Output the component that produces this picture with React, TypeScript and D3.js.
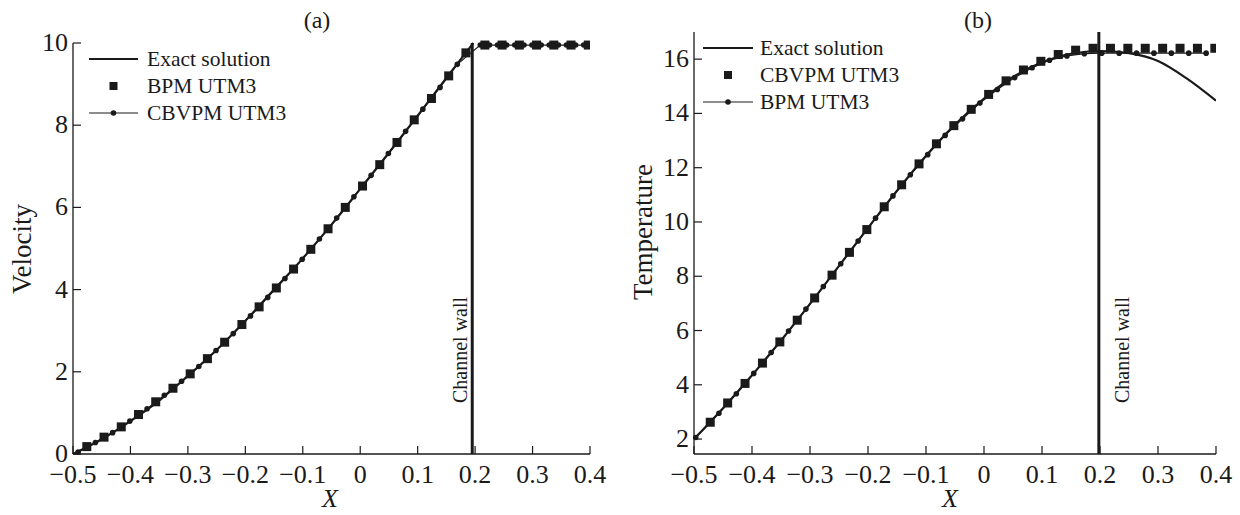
import React from "react";
import * as d3 from "d3";

// ---------- Panel (a): Velocity ----------
const velExactX = [-0.5, -0.45, -0.4, -0.35, -0.3, -0.25, -0.2, -0.15, -0.1, -0.05, 0, 0.05, 0.1, 0.15, 0.197];
const velExactY = [0, 0.36, 0.8, 1.3, 1.9, 2.53, 3.24, 4.0, 4.76, 5.58, 6.45, 7.33, 8.23, 9.15, 10];

const velBpmX = [-0.476, -0.446, -0.416, -0.386, -0.356, -0.326, -0.296, -0.266, -0.236, -0.206, -0.176, -0.146, -0.116, -0.086, -0.056, -0.026, 0.004, 0.034, 0.064, 0.094, 0.124, 0.154, 0.184,
  0.217, 0.247, 0.277, 0.307, 0.337, 0.367, 0.397];
const velBpmY = [0.18, 0.41, 0.66, 0.96, 1.27, 1.6, 1.95, 2.32, 2.72, 3.15, 3.58, 4.04, 4.5, 4.98, 5.48, 6.0, 6.52, 7.04, 7.58, 8.13, 8.65, 9.2, 9.76,
  9.95, 9.95, 9.95, 9.95, 9.95, 9.95, 9.95];

const velCbvX = [-0.491, -0.461, -0.431, -0.401, -0.371, -0.341, -0.311, -0.281, -0.251, -0.221, -0.191, -0.161, -0.131, -0.101, -0.071, -0.041, -0.011, 0.019, 0.049, 0.079, 0.109, 0.139, 0.169,
  0.209, 0.225, 0.239, 0.255, 0.269, 0.285, 0.299, 0.315, 0.329, 0.345, 0.359, 0.375, 0.389];
const velCbvY = [0.05, 0.28, 0.52, 0.8, 1.1, 1.43, 1.77, 2.13, 2.52, 2.93, 3.36, 3.81, 4.27, 4.74, 5.23, 5.74, 6.26, 6.78, 7.31, 7.85, 8.39, 8.92, 9.48,
  9.95, 9.95, 9.95, 9.95, 9.95, 9.95, 9.95, 9.95, 9.95, 9.95, 9.95, 9.95, 9.95];

// ---------- Panel (b): Temperature ----------
const tmpExactX = [-0.5, -0.45, -0.4, -0.35, -0.3, -0.25, -0.2, -0.15, -0.1, -0.05, 0, 0.05, 0.1, 0.15, 0.2, 0.25, 0.3, 0.35, 0.4];
const tmpExactY = [2.0, 3.14, 4.35, 5.63, 6.98, 8.38, 9.78, 11.15, 12.44, 13.59, 14.55, 15.34, 15.88, 16.2, 16.3, 16.22, 15.93, 15.28, 14.47];

const tmpCbvX = [-0.472, -0.442, -0.412, -0.382, -0.352, -0.322, -0.292, -0.262, -0.232, -0.202, -0.172, -0.142, -0.112, -0.082, -0.052, -0.022, 0.008, 0.038, 0.068, 0.098, 0.128, 0.158, 0.188,
  0.218, 0.248, 0.278, 0.308, 0.338, 0.368, 0.398];
const tmpCbvY = [2.62, 3.33, 4.05, 4.8, 5.58, 6.38, 7.2, 8.04, 8.88, 9.72, 10.56, 11.37, 12.14, 12.88, 13.55, 14.15, 14.7, 15.2, 15.6, 15.92, 16.17, 16.33, 16.4,
  16.4, 16.4, 16.4, 16.4, 16.4, 16.4, 16.4];

const tmpBpmX = [-0.497, -0.457, -0.427, -0.397, -0.367, -0.337, -0.307, -0.277, -0.247, -0.217, -0.187, -0.157, -0.127, -0.097, -0.067, -0.037, -0.007, 0.023, 0.053, 0.083, 0.113, 0.143, 0.173,
  0.203, 0.233, 0.263, 0.293, 0.323, 0.353, 0.383];
const tmpBpmY = [2.06, 2.95, 3.67, 4.42, 5.19, 5.98, 6.79, 7.62, 8.46, 9.3, 10.14, 10.96, 11.74, 12.48, 13.19, 13.8, 14.38, 14.88, 15.32, 15.68, 15.96, 16.12, 16.2,
  16.22, 16.22, 16.22, 16.22, 16.22, 16.22, 16.22];

const xTicks = [-0.5, -0.4, -0.3, -0.2, -0.1, 0, 0.1, 0.2, 0.3, 0.4];
const velTicks = [0, 2, 4, 6, 8, 10];
const tmpTicks = [2, 4, 6, 8, 10, 12, 14, 16];

const FONT = "'Liberation Serif', 'Times New Roman', Times, serif";
const INK = "#1a1a1a";

type Pt = [number, number];
const zip = (xs: number[], ys: number[]): Pt[] => xs.map((x, i) => [x, ys[i]]);

interface PanelProps {
  id: string;
  title: string;
  titleX: number;
  yLabel: string;
  yLabelX: number;
  yLabelY: number;
  xRange: [number, number];
  yDomain: [number, number];
  yRange: [number, number];
  yTicks: number[];
  yTop: number;
  wall: number;
  wallTop: number;
  wallLabelX: number;
  exact: Pt[];
  squares: Pt[];
  dots: Pt[];
  legend: { lineX0: number; lineX1: number; textX: number; rows: number[]; labels: string[] };
  xLabelX: number;
}

function Panel(p: PanelProps) {
  const x = d3.scaleLinear().domain([-0.5, 0.4]).range(p.xRange);
  const y = d3.scaleLinear().domain(p.yDomain).range(p.yRange);
  const exactLine = d3.line<Pt>().x(d => x(d[0])).y(d => y(d[1])).curve(d3.curveMonotoneX);
  const dotLine = d3.line<Pt>().x(d => x(d[0])).y(d => y(d[1]));
  const y0 = p.yRange[0];
  const fmt = (d: number) => (d === 0 ? "0" : d.toFixed(1).replace("-", "\u2212"));
  const sq = 9;
  const lg = p.legend;
  const sqX = (lg.lineX0 + lg.lineX1) / 2;
  return (
    <g>
      <defs>
        <clipPath id={p.id}>
          <rect x={p.xRange[0] - 10} y={0} width={p.xRange[1] - p.xRange[0] + 10} height={y0 + 5} />
        </clipPath>
      </defs>
      {/* axes */}
      <line x1={p.xRange[0]} x2={p.xRange[1]} y1={y0} y2={y0} stroke={INK} strokeWidth={1.3} />
      <line x1={p.xRange[0]} x2={p.xRange[0]} y1={y0} y2={y(p.yTop)} stroke={INK} strokeWidth={1.3} />
      {xTicks.map(t => (
        <g key={"x" + t}>
          <line x1={x(t)} x2={x(t)} y1={y0} y2={y0 - 8} stroke={INK} strokeWidth={1.2} />
          <text x={x(t)} y={483} fontSize={26} fontFamily={FONT} textAnchor="middle" fill={INK}>{fmt(t)}</text>
        </g>
      ))}
      {p.yTicks.map(t => (
        <g key={"y" + t}>
          <line x1={p.xRange[0]} x2={p.xRange[0] + 8} y1={y(t)} y2={y(t)} stroke={INK} strokeWidth={1.2} />
          <text x={p.xRange[0] - 5} y={y(t) + 8} fontSize={26} fontFamily={FONT} textAnchor="end" fill={INK}>{t}</text>
        </g>
      ))}
      <text x={p.titleX} y={28} fontSize={24} fontFamily={FONT} textAnchor="middle" fill={INK}>{p.title}</text>
      <text x={p.xLabelX} y={507} fontSize={26} fontFamily={FONT} fontStyle="italic" textAnchor="middle" fill={INK}>X</text>
      <text transform={`translate(${p.yLabelX},${p.yLabelY}) rotate(-90)`} fontSize={27} fontFamily={FONT} textAnchor="middle" dominantBaseline="central" fill={INK}>{p.yLabel}</text>
      {/* channel wall */}
      <line x1={x(p.wall)} x2={x(p.wall)} y1={y0} y2={y(p.wallTop)} stroke={INK} strokeWidth={3} />
      <text transform={`translate(${p.wallLabelX},403) rotate(-90)`} fontSize={20} fontFamily={FONT} textAnchor="start" dominantBaseline="central" fill={INK}>Channel wall</text>
      {/* data */}
      <g clipPath={`url(#${p.id})`}>
        <path d={dotLine(p.dots) || ""} fill="none" stroke={INK} strokeWidth={1.2} />
        {p.dots.map((d, i) => (
          <circle key={"d" + i} cx={x(d[0])} cy={y(d[1])} r={2.8} fill={INK} />
        ))}
        <path d={exactLine(p.exact) || ""} fill="none" stroke={INK} strokeWidth={2.2} />
        {p.squares.map((d, i) => (
          <rect key={"s" + i} x={x(d[0]) - sq / 2} y={y(d[1]) - sq / 2} width={sq} height={sq} fill={INK} />
        ))}
      </g>
      {/* legend */}
      <line x1={lg.lineX0} x2={lg.lineX1} y1={lg.rows[0]} y2={lg.rows[0]} stroke={INK} strokeWidth={2} />
      <rect x={sqX - 4} y={lg.rows[1] - 4} width={8} height={8} fill={INK} />
      <line x1={lg.lineX0} x2={lg.lineX1} y1={lg.rows[2]} y2={lg.rows[2]} stroke={INK} strokeWidth={1.2} />
      <circle cx={sqX} cy={lg.rows[2]} r={2.8} fill={INK} />
      {lg.labels.map((l, i) => (
        <text key={l} x={lg.textX} y={lg.rows[i] + 6.5} fontSize={21.5} fontFamily={FONT} fill={INK}>{l}</text>
      ))}
    </g>
  );
}

export default function App() {
  return (
    <svg width={1240} height={515} style={{ position: "absolute", left: 0, top: 0, background: "#fff" }}>
      <rect width={1240} height={515} fill="#fff" />
      <Panel
        id="clipA"
        title="(a)"
        titleX={317}
        yLabel="Velocity"
        yLabelX={22}
        yLabelY={249}
        xRange={[73, 590]}
        yDomain={[0, 10]}
        yRange={[454, 43]}
        yTicks={velTicks}
        yTop={10}
        wall={0.195}
        wallTop={10}
        wallLabelX={460}
        exact={zip(velExactX, velExactY)}
        squares={zip(velBpmX, velBpmY)}
        dots={zip(velCbvX, velCbvY)}
        legend={{ lineX0: 89, lineX1: 138, textX: 147, rows: [59, 86, 113], labels: ["Exact solution", "BPM UTM3", "CBVPM UTM3"] }}
        xLabelX={330}
      />
      <Panel
        id="clipB"
        title="(b)"
        titleX={978}
        yLabel="Temperature"
        yLabelX={643}
        yLabelY={232}
        xRange={[694, 1216]}
        yDomain={[1.45, 17]}
        yRange={[454, 32]}
        yTicks={tmpTicks}
        yTop={17}
        wall={0.198}
        wallTop={17}
        wallLabelX={1122}
        exact={zip(tmpExactX, tmpExactY)}
        squares={zip(tmpCbvX, tmpCbvY)}
        dots={zip(tmpBpmX, tmpBpmY)}
        legend={{ lineX0: 703, lineX1: 753, textX: 760, rows: [48, 75, 102], labels: ["Exact solution", "CBVPM UTM3", "BPM UTM3"] }}
        xLabelX={950}
      />
    </svg>
  );
}
